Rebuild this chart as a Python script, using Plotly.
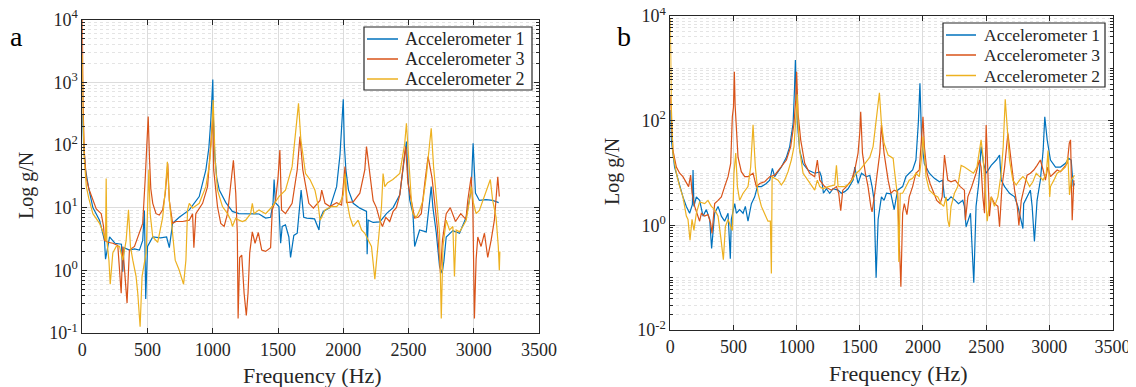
import plotly.graph_objects as go

# ---------------- data (frequency Hz, magnitude g/N) ----------------
# Panel a
A_ACC1 = [(0,300),(10,100),(25,40),(50,20),(81,10),(132,6.3),(170,3),(178,1.5),(209,3.4),(250,2.7),(300,2.6),(310,0.95),(320,2.3),(361,2.1),(400,2.2),(438,2.1),(463,3),(476,9),(486,0.35),(500,2.4),(540,3.4),(600,3.3),(646,3.4),(667,2.3),(692,5.6),(743,7),(820,9.2),(896,15),(947,40),(970,90),(985,250),(995,700),(1000,1100),(1005,250),(1015,70),(1030,30),(1050,19),(1100,12),(1150,8.7),(1200,8),(1280,8),(1355,7.9),(1405,6.8),(1443,7),(1462,12),(1470,28),(1480,12),(1507,10.4),(1520,2.7),(1532,5),(1557,5.3),(1583,3.4),(1596,1.6),(1621,3.6),(1647,3.9),(1665,10),(1677,19),(1697,7),(1720,6.8),(1780,6.6),(1814,4.4),(1822,6.6),(1847,8.7),(1898,10),(1949,21.6),(1975,70),(1990,200),(2000,535),(2008,100),(2020,40),(2040,19),(2076,11.7),(2127,9.8),(2178,8.7),(2183,1.8),(2191,6.3),(2229,5.8),(2280,5.9),(2331,8),(2382,10),(2433,16),(2471,74),(2484,113),(2496,30),(2509,13.3),(2534,8),(2547,2.4),(2585,4.4),(2636,4.1),(2674,21.6),(2687,10),(2713,3.9),(2738,1.15),(2758,0.9),(2771,1.4),(2789,3.4),(2840,4.3),(2891,3.9),(2942,7),(2980,19),(2995,106),(3013,17),(3043,13),(3094,13.4),(3145,13),(3191,12)]
A_ACC3 = [(0,10000),(5,500),(15,80),(30,30),(50,20),(80,13),(107,9.5),(145,8),(163,5),(170,3),(196,2.8),(234,2.7),(272,2.5),(298,0.43),(310,2.4),(343,0.3),(361,2.1),(400,2.4),(438,3.9),(463,5.6),(483,31),(495,120),(505,283),(515,60),(525,20),(540,11.7),(565,8),(590,7.6),(616,9.2),(636,17),(655,50),(667,13),(692,5.6),(718,6),(769,6),(820,6.3),(845,8),(855,2.3),(870,8),(922,11.7),(960,21.6),(985,107),(1000,283),(1007,40),(1023,17),(1036,10.4),(1061,5.6),(1087,5),(1113,8),(1138,21.6),(1158,57),(1176,17),(1188,3.9),(1194,0.17),(1206,1.6),(1222,1.75),(1240,0.43),(1257,0.19),(1270,0.43),(1283,1.9),(1303,4.1),(1324,2.7),(1349,4),(1375,2.1),(1405,2),(1443,2.3),(1456,9.2),(1481,13),(1500,30),(1514,83),(1527,9.2),(1557,8),(1608,11.7),(1647,40),(1668,136),(1690,40),(1736,11.7),(1771,9.8),(1822,13),(1835,19),(1860,11.7),(1898,10.4),(1949,12),(1987,11),(2013,45),(2025,12),(2076,12.3),(2127,17),(2165,40),(2178,94),(2204,31),(2229,13),(2254,10),(2280,6.3),(2300,5),(2326,7),(2356,6),(2382,8.7),(2407,10),(2433,16),(2471,74),(2478,94),(2496,24.4),(2522,12),(2547,6.8),(2573,7),(2598,8),(2624,24),(2650,65),(2680,30),(2700,13),(2720,5),(2745,0.9),(2760,3),(2789,8),(2820,10),(2860,6),(2900,8),(2940,6.5),(2954,13),(2980,31),(2993,10),(3005,0.17),(3018,1.5),(3031,3.4),(3056,2.4),(3082,3.9),(3107,1.6),(3133,3),(3158,6.3),(3184,31),(3196,15)]
A_ACC2 = [(0,2700),(5,300),(15,60),(31,21.6),(50,14),(81,8),(132,5.6),(163,3.9),(178,3),(183,29),(188,3),(204,1.45),(214,0.6),(234,1.9),(260,2.4),(285,2.4),(310,1.45),(336,3),(354,9.2),(369,2.4),(387,1.45),(412,0.8),(425,0.43),(443,0.126),(458,0.8),(476,1.45),(489,1.9),(500,9.2),(510,40),(520,8),(540,3.4),(578,2.8),(616,7),(636,19),(652,54),(667,13),(687,5),(712,1.45),(743,1.0),(776,0.6),(794,1.45),(807,9.2),(820,11.7),(845,9.8),(896,11.7),(947,21.6),(975,50),(990,120),(1003,520),(1010,150),(1018,58),(1036,19),(1074,10.4),(1113,8),(1138,6.3),(1150,5),(1176,6.8),(1201,6.3),(1227,6),(1252,6.3),(1290,8),(1303,11.7),(1316,8),(1354,9.2),(1405,8),(1456,10.4),(1507,15),(1557,19),(1608,45),(1639,196),(1657,460),(1675,120),(1694,58),(1711,35),(1745,28),(1783,19),(1809,10.4),(1822,6.3),(1835,7),(1860,9.2),(1911,10.4),(1949,10.4),(1975,12),(2000,16),(2014,35),(2030,12),(2051,7),(2076,5),(2114,6.3),(2140,4.4),(2165,3.9),(2216,2.4),(2242,0.72),(2267,2.7),(2293,10.4),(2305,35),(2318,21.6),(2340,25),(2380,28),(2433,35),(2460,80),(2471,106),(2484,222),(2495,90),(2504,40),(2522,13),(2534,8),(2560,7),(2585,9),(2611,13),(2636,31),(2662,106),(2674,184),(2692,45),(2713,13),(2738,3.9),(2751,0.17),(2764,2.4),(2789,6.3),(2814,4.4),(2840,5),(2852,0.8),(2865,4.4),(2891,4.1),(2916,5),(2942,6.3),(2967,13),(2980,21.6),(2997,12),(3018,8),(3043,9),(3069,13),(3094,19),(3127,28),(3145,13),(3171,7),(3188,2.4),(3196,1.0),(3200,2.0)]

# Panel b
B_ACC1 = [(0,160),(8,43),(34,13),(61,7.3),(87,4.7),(100,3.5),(127,2.3),(153,1.7),(175,2.5),(180,11.4),(187,2.3),(206,3.5),(232,3),(259,1.5),(285,2),(312,1.3),(327,0.36),(351,1.7),(378,2.3),(404,1.5),(430,1.2),(457,1.7),(475,0.23),(483,1.3),(510,2.6),(523,1.7),(549,2),(576,1.7),(594,2.3),(615,1.2),(642,2.6),(668,3.5),(689,5.5),(721,5.5),(760,6.3),(787,7.3),(808,12.3),(826,8.5),(879,13),(919,20),(945,32),(972,89),(983,400),(990,1440),(997,300),(1006,89),(1024,27),(1051,15),(1090,11.4),(1143,9.9),(1183,10.5),(1196,8.5),(1212,4.1),(1235,5),(1262,4.1),(1288,5),(1328,4.7),(1354,4.1),(1381,4.4),(1407,5),(1447,7.3),(1460,13),(1486,6.3),(1513,9.9),(1552,8.5),(1579,9),(1597,5.5),(1613,3),(1629,0.1),(1645,1.3),(1671,3.5),(1692,3),(1711,4.1),(1746,4),(1772,2),(1799,4.7),(1839,5.5),(1865,8.5),(1891,9.9),(1918,11.4),(1944,17.7),(1963,89),(1976,518),(1983,150),(1989,43),(2011,15),(2050,9.9),(2090,7.9),(2130,6.8),(2156,7.3),(2169,3.5),(2196,3),(2222,3.5),(2255,3),(2281,2.6),(2315,3),(2328,2.3),(2341,0.94),(2376,1.7),(2386,0.52),(2402,0.08),(2420,2.3),(2441,6.3),(2460,32),(2479,15.3),(2500,9.9),(2540,14),(2580,17.7),(2606,22),(2619,7.3),(2646,5.5),(2685,4.1),(2725,3.5),(2751,2.3),(2778,1.3),(2791,0.87),(2797,2.6),(2824,3.5),(2850,4.7),(2864,2.3),(2882,0.49),(2903,3),(2929,7.3),(2951,27),(2964,119),(2983,43),(3009,17.7),(3049,13),(3089,13),(3128,15.3),(3154,19),(3173,17.7),(3189,5.5),(3199,6.3)]
B_ACC3 = [(0,300),(8,89),(21,27),(48,13),(74,9.9),(100,8.5),(127,6.3),(145,5.5),(161,9.1),(172,4.1),(193,2.3),(214,1.7),(232,1.2),(246,1.7),(272,1.5),(298,1.6),(319,1.1),(330,0.7),(351,2.6),(378,3),(404,3.5),(430,5.5),(457,8.5),(478,15.3),(491,119),(500,180),(507,860),(513,200),(520,89),(536,20),(562,10.6),(589,8.5),(615,8.5),(655,9.9),(681,5.5),(708,6.3),(747,6.8),(787,8.5),(826,9.1),(879,13),(919,17.7),(953,32),(979,89),(993,250),(1000,860),(1011,138),(1032,43),(1064,15.3),(1103,9.9),(1143,8.5),(1164,17.7),(1183,7.3),(1222,5.5),(1275,4.7),(1315,5.5),(1333,4.1),(1349,1.9),(1365,4.7),(1394,5.5),(1434,7.3),(1460,11.4),(1486,24),(1500,60),(1507,148),(1521,24),(1544,9.9),(1565,5.5),(1587,2.3),(1597,1.8),(1618,4.1),(1640,9.9),(1658,24),(1671,83),(1692,24),(1724,7.3),(1746,4.1),(1772,4.7),(1799,4.4),(1812,0.52),(1825,0.067),(1839,1.7),(1852,2.6),(1873,1.6),(1891,3.5),(1918,5.5),(1944,9.9),(1971,11.4),(1989,43),(2000,119),(2011,32),(2032,9.9),(2056,6.3),(2090,3.8),(2109,3),(2136,2.6),(2152,3.5),(2170,22),(2196,7.3),(2222,6.8),(2255,7.3),(2295,5.5),(2328,4.7),(2336,1.25),(2355,3.5),(2386,5.5),(2420,9.9),(2447,17.7),(2460,13),(2474,3.5),(2487,1.7),(2500,83),(2513,9.9),(2526,1.5),(2540,3.5),(2566,2.6),(2593,2.3),(2606,0.94),(2625,5.5),(2646,13),(2672,57),(2700,13),(2725,4.7),(2746,2.3),(2759,1),(2778,3),(2797,4.7),(2824,9.1),(2850,9.9),(2877,11.4),(2903,14),(2929,17.7),(2951,11.4),(2969,7.3),(2988,13),(3009,8.5),(3036,9.9),(3062,11.4),(3089,10.6),(3115,13),(3142,15.3),(3158,37),(3168,43),(3181,1.25),(3194,7.3)]
B_ACC2 = [(0,9000),(5,800),(8,185),(21,24),(48,9.9),(74,5.5),(100,3.5),(127,1.5),(140,1.3),(156,0.52),(172,1.3),(187,0.8),(206,1.7),(232,2.8),(272,2.6),(298,3),(325,2.3),(351,2),(378,1.5),(399,0.6),(420,0.22),(436,0.95),(457,1.3),(478,0.95),(491,0.8),(504,9.9),(518,24),(531,5.5),(549,3),(576,4.1),(615,5.5),(636,13),(655,83),(673,13),(694,4.1),(721,2.3),(747,1.6),(773,1.2),(792,1.2),(800,0.12),(806,8.5),(853,7.3),(879,5.9),(905,7.3),(932,10.6),(958,17.7),(979,32),(995,120),(1005,320),(1012,80),(1024,27),(1051,9.9),(1090,7.3),(1122,5.5),(1143,4.7),(1164,7.3),(1183,5.5),(1209,5),(1249,5.5),(1301,5.9),(1315,14),(1328,5.5),(1381,5.5),(1420,6.3),(1447,7.9),(1473,9.9),(1500,11.4),(1539,15.3),(1579,20),(1605,32),(1632,103),(1655,342),(1671,89),(1692,37),(1724,22),(1764,19),(1772,12.3),(1799,3.5),(1809,0.2),(1820,4.1),(1839,4.1),(1865,5.5),(1891,7.3),(1918,7.9),(1944,9.9),(1971,8.5),(1989,20),(2000,50),(2011,24),(2024,8.5),(2050,4.7),(2090,3.8),(2117,3.5),(2143,2.6),(2164,2.3),(2183,3.5),(2196,1.25),(2209,0.94),(2222,2.3),(2249,4.1),(2275,5.5),(2302,14),(2328,13),(2361,11.4),(2400,9.9),(2427,13),(2460,43),(2476,20),(2492,4.7),(2508,1.2),(2526,2.6),(2540,3.5),(2566,2.3),(2593,3.5),(2619,9.9),(2635,32),(2651,255),(2667,57),(2685,17.7),(2711,7.3),(2738,5.9),(2764,7.3),(2791,8.5),(2818,7.3),(2844,5.5),(2870,6.8),(2896,9.9),(2923,8.5),(2950,7.3),(2976,9.9),(2990,27),(3003,3.5),(3009,5.5),(3036,7.3),(3062,9.9),(3102,11.4),(3128,13),(3147,20),(3160,3.8),(3173,7.3),(3189,8.5),(3199,9)]

SERIES_NAMES = ["Accelerometer 1", "Accelerometer 3", "Accelerometer 2"]
COLORS = ["#0072BD", "#D95319", "#EDB120"]
X_TICKS = [0, 500, 1000, 1500, 2000, 2500, 3000, 3500]
YA_TICKS = [0.1, 1, 10, 100, 1000, 10000]
YA_LABELS = ["10<sup>-1</sup>", "10<sup>0</sup>", "10<sup>1</sup>", "10<sup>2</sup>", "10<sup>3</sup>", "10<sup>4</sup>"]
YB_TICKS = [0.01, 1, 100, 10000]
YB_LABELS = ["10<sup>-2</sup>", "10<sup>0</sup>", "10<sup>2</sup>", "10<sup>4</sup>"]

FONT = "Liberation Serif, Times New Roman, serif"
INK = "#262626"

# page body has an 8px margin: figure is drawn from screen (8, 8)
OFF = 8
W, H = 1136 - OFF, 387 - OFF


def PX(sx):
    return (sx - OFF) / W


def PY(sy):
    return 1 - (sy - OFF) / H


fig = go.Figure()
for series, xa, ya in [([A_ACC1, A_ACC3, A_ACC2], "x", "y"),
                       ([B_ACC1, B_ACC3, B_ACC2], "x2", "y2")]:
    for name, col, pts in zip(SERIES_NAMES, COLORS, series):
        fig.add_trace(go.Scatter(
            x=[p[0] for p in pts], y=[p[1] for p in pts], mode="lines", name=name,
            line=dict(color=col, width=1.2), xaxis=xa, yaxis=ya, showlegend=False))


def minor_vals(lo, hi, majors):
    vals = []
    for d in range(lo, hi):
        for k in range(1, 10):
            v = k * 10 ** d
            if not any(abs(v - m) < 1e-12 for m in majors):
                vals.append(v)
    return vals


def xaxis(domain, anchor):
    return dict(domain=domain, anchor=anchor, range=[0, 3500], tickvals=X_TICKS,
                automargin=False, ticklabeloverflow="allow",
                showgrid=True, gridcolor="#dcdcdc", gridwidth=1, zeroline=False,
                showline=True, linecolor=INK, linewidth=1, mirror="ticks",
                ticks="inside", ticklen=5, tickcolor=INK,
                tickfont=dict(family=FONT, size=18, color=INK))


def yaxis(domain, anchor, rng, tv, tt):
    return dict(domain=domain, anchor=anchor, type="log", range=rng,
                tickvals=tv, ticktext=tt, automargin=False, ticklabeloverflow="allow",
                showgrid=True, gridcolor="#dcdcdc", gridwidth=1, zeroline=False,
                showline=True, linecolor=INK, linewidth=1, mirror="ticks",
                ticks="inside", ticklen=5, tickcolor=INK,
                tickfont=dict(family=FONT, size=18, color=INK),
                minor=dict(tickmode="array", tickvals=minor_vals(rng[0], rng[1], tv),
                           ticks="inside", ticklen=3, tickcolor=INK,
                           showgrid=True, gridcolor="#e4e4e4", griddash="dot", gridwidth=1))


shapes = []
annotations = []


def add_legend(box, rows, line_x, text_x, fsize):
    x0, y0, x1, y1 = box
    shapes.append(dict(type="rect", xref="paper", yref="paper", x0=PX(x0), x1=PX(x1),
                       y0=PY(y1), y1=PY(y0), line=dict(color=INK, width=1.2),
                       fillcolor="white", layer="above"))
    for name, col, ry in zip(SERIES_NAMES, COLORS, rows):
        shapes.append(dict(type="line", xref="paper", yref="paper", x0=PX(line_x[0]),
                           x1=PX(line_x[1]), y0=PY(ry), y1=PY(ry),
                           line=dict(color=col, width=1.5), layer="above"))
        annotations.append(dict(text=name, x=PX(text_x), y=PY(ry), xref="paper", yref="paper",
                                xanchor="left", yanchor="middle", showarrow=False,
                                font=dict(family=FONT, size=fsize, color=INK)))


add_legend((364, 27, 532, 90), (39, 59, 79), (367, 398), 403, 18)
add_legend((943, 23, 1105, 87), (35, 55, 75.5), (946, 976), 982, 17.5)


def label(text, sx, sy, size, angle=0, color=INK):
    annotations.append(dict(text=text, x=PX(sx), y=PY(sy), xref="paper", yref="paper",
                            xanchor="center", yanchor="middle", showarrow=False,
                            textangle=angle, font=dict(family=FONT, size=size, color=color)))


label("a", 16, 37, 28, color="black")
label("b", 624, 37, 28, color="black")
label("Frequency (Hz)", 312, 375, 22)
label("Frequency (Hz)", 898, 373, 22)
label("Log g/N", 27, 186, 20, angle=-90)
label("Log g/N", 612, 172, 20, angle=-90)

fig.update_layout(
    width=W, height=H, margin=dict(l=0, r=0, t=0, b=0, autoexpand=False),
    plot_bgcolor="white", paper_bgcolor="white", showlegend=False,
    xaxis=xaxis([PX(82.3), PX(539)], "y"),
    yaxis=yaxis([PY(333), PY(19.5)], "x", [-1, 4], YA_TICKS, YA_LABELS),
    xaxis2=xaxis([PX(670.3), PX(1112.5)], "y2"),
    yaxis2=yaxis([PY(330), PY(16)], "x2", [-2, 4], YB_TICKS, YB_LABELS),
    shapes=shapes, annotations=annotations,
)

fig.write_html("out.html")
